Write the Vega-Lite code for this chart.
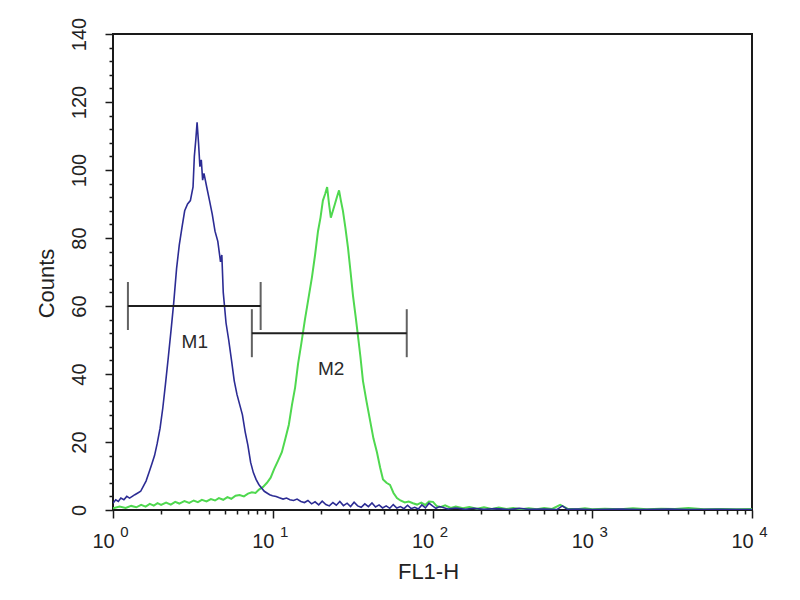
{
  "$schema": "https://vega.github.io/schema/vega-lite/v6.json",
  "autosize": "none",
  "padding": {"left": 113, "top": 34, "right": 48, "bottom": 90},
  "width": 639,
  "height": 476,
  "background": "white",
  "config": {
    "font": "Liberation Sans",
    "view": {"stroke": "#1a1a1a", "strokeWidth": 2},
    "axis": {"grid": false, "domain": false, "tickColor": "#1a1a1a", "tickWidth": 1.5, "labelColor": "#222", "titleColor": "#222", "labelFont": "Liberation Sans", "titleFont": "Liberation Sans", "titleFontWeight": "normal"}
  },
  "datasets": {
    "control": [
      {"fl1h": 1.00, "count": 2}, {"fl1h": 1.04, "count": 3}, {"fl1h": 1.08, "count": 2.5}, {"fl1h": 1.12, "count": 3.5},
      {"fl1h": 1.17, "count": 3}, {"fl1h": 1.22, "count": 4}, {"fl1h": 1.27, "count": 3.5}, {"fl1h": 1.32, "count": 4},
      {"fl1h": 1.37, "count": 4.5}, {"fl1h": 1.43, "count": 5}, {"fl1h": 1.49, "count": 5.5}, {"fl1h": 1.55, "count": 7},
      {"fl1h": 1.61, "count": 8.5}, {"fl1h": 1.68, "count": 11}, {"fl1h": 1.75, "count": 13.5}, {"fl1h": 1.82, "count": 16},
      {"fl1h": 1.89, "count": 19.5}, {"fl1h": 1.97, "count": 24}, {"fl1h": 2.05, "count": 30}, {"fl1h": 2.13, "count": 37},
      {"fl1h": 2.22, "count": 45}, {"fl1h": 2.31, "count": 53}, {"fl1h": 2.40, "count": 61}, {"fl1h": 2.50, "count": 71},
      {"fl1h": 2.60, "count": 78}, {"fl1h": 2.70, "count": 83}, {"fl1h": 2.81, "count": 88}, {"fl1h": 2.93, "count": 90},
      {"fl1h": 3.05, "count": 91}, {"fl1h": 3.17, "count": 95}, {"fl1h": 3.23, "count": 104}, {"fl1h": 3.30, "count": 109},
      {"fl1h": 3.36, "count": 114}, {"fl1h": 3.43, "count": 108}, {"fl1h": 3.50, "count": 101}, {"fl1h": 3.57, "count": 103},
      {"fl1h": 3.64, "count": 97}, {"fl1h": 3.71, "count": 99}, {"fl1h": 3.86, "count": 95}, {"fl1h": 4.02, "count": 91},
      {"fl1h": 4.18, "count": 87}, {"fl1h": 4.35, "count": 82}, {"fl1h": 4.53, "count": 79}, {"fl1h": 4.71, "count": 73},
      {"fl1h": 4.80, "count": 75}, {"fl1h": 4.90, "count": 64}, {"fl1h": 5.10, "count": 55}, {"fl1h": 5.30, "count": 50},
      {"fl1h": 5.52, "count": 44}, {"fl1h": 5.74, "count": 38}, {"fl1h": 5.97, "count": 34}, {"fl1h": 6.21, "count": 31},
      {"fl1h": 6.46, "count": 28}, {"fl1h": 6.72, "count": 23}, {"fl1h": 6.99, "count": 19}, {"fl1h": 7.27, "count": 14},
      {"fl1h": 7.56, "count": 11}, {"fl1h": 7.86, "count": 9}, {"fl1h": 8.18, "count": 7.5}, {"fl1h": 8.51, "count": 6.5},
      {"fl1h": 8.85, "count": 5.5}, {"fl1h": 9.20, "count": 5}, {"fl1h": 9.57, "count": 4.5}, {"fl1h": 9.96, "count": 4.2},
      {"fl1h": 10.5, "count": 4}, {"fl1h": 11.0, "count": 3.6}, {"fl1h": 11.6, "count": 3.2}, {"fl1h": 12.2, "count": 3.5},
      {"fl1h": 12.8, "count": 3}, {"fl1h": 13.5, "count": 2.8}, {"fl1h": 14.2, "count": 3.2}, {"fl1h": 15.0, "count": 2.5},
      {"fl1h": 15.8, "count": 2.2}, {"fl1h": 16.6, "count": 2.8}, {"fl1h": 17.5, "count": 1.8}, {"fl1h": 18.4, "count": 2.4},
      {"fl1h": 19.4, "count": 1.5}, {"fl1h": 20.4, "count": 2.6}, {"fl1h": 21.5, "count": 1.6}, {"fl1h": 22.6, "count": 1.2},
      {"fl1h": 23.8, "count": 2.2}, {"fl1h": 25.0, "count": 1.4}, {"fl1h": 26.3, "count": 2.5}, {"fl1h": 27.7, "count": 1.3},
      {"fl1h": 29.2, "count": 2}, {"fl1h": 30.7, "count": 1}, {"fl1h": 32.3, "count": 2.3}, {"fl1h": 34.0, "count": 1.2},
      {"fl1h": 35.8, "count": 0.8}, {"fl1h": 37.7, "count": 1.8}, {"fl1h": 39.7, "count": 1}, {"fl1h": 41.8, "count": 2.1},
      {"fl1h": 44.0, "count": 0.9}, {"fl1h": 46.3, "count": 1.5}, {"fl1h": 48.7, "count": 0.6}, {"fl1h": 51.3, "count": 1.2},
      {"fl1h": 54.0, "count": 0.5}, {"fl1h": 56.8, "count": 1.6}, {"fl1h": 59.8, "count": 0.6}, {"fl1h": 63.0, "count": 1},
      {"fl1h": 66.3, "count": 0.4}, {"fl1h": 69.8, "count": 1.4}, {"fl1h": 73.5, "count": 0.4}, {"fl1h": 77.4, "count": 0.8},
      {"fl1h": 81.5, "count": 0.3}, {"fl1h": 85.8, "count": 1.5}, {"fl1h": 90.3, "count": 0.6}, {"fl1h": 95.1, "count": 2},
      {"fl1h": 100, "count": 1.2}, {"fl1h": 105, "count": 0.5}, {"fl1h": 111, "count": 1}, {"fl1h": 125, "count": 0.3},
      {"fl1h": 140, "count": 0.6}, {"fl1h": 160, "count": 0.2}, {"fl1h": 180, "count": 0.5}, {"fl1h": 210, "count": 0.2},
      {"fl1h": 250, "count": 0.4}, {"fl1h": 300, "count": 0.1}, {"fl1h": 350, "count": 0.5}, {"fl1h": 400, "count": 0.2},
      {"fl1h": 500, "count": 0.3}, {"fl1h": 600, "count": 0.1}, {"fl1h": 650, "count": 1.2}, {"fl1h": 700, "count": 0.2},
      {"fl1h": 800, "count": 0.3}, {"fl1h": 1000, "count": 0.1}, {"fl1h": 1500, "count": 0.3}, {"fl1h": 2000, "count": 0.1},
      {"fl1h": 3000, "count": 0.3}, {"fl1h": 4000, "count": 0.1}, {"fl1h": 6000, "count": 0.2}, {"fl1h": 10000, "count": 0.1}
    ],
    "sample": [
      {"fl1h": 1.00, "count": 0.5}, {"fl1h": 1.1, "count": 1}, {"fl1h": 1.2, "count": 0.6}, {"fl1h": 1.3, "count": 1.2},
      {"fl1h": 1.4, "count": 0.8}, {"fl1h": 1.5, "count": 1.5}, {"fl1h": 1.6, "count": 1}, {"fl1h": 1.7, "count": 1.8},
      {"fl1h": 1.8, "count": 1.3}, {"fl1h": 1.9, "count": 2}, {"fl1h": 2.0, "count": 1.5}, {"fl1h": 2.15, "count": 2.2},
      {"fl1h": 2.3, "count": 1.6}, {"fl1h": 2.45, "count": 2.4}, {"fl1h": 2.6, "count": 1.9}, {"fl1h": 2.8, "count": 2.6},
      {"fl1h": 3.0, "count": 2.1}, {"fl1h": 3.2, "count": 2.8}, {"fl1h": 3.4, "count": 2.3}, {"fl1h": 3.6, "count": 3},
      {"fl1h": 3.85, "count": 2.5}, {"fl1h": 4.1, "count": 3.2}, {"fl1h": 4.35, "count": 2.8}, {"fl1h": 4.6, "count": 3.5},
      {"fl1h": 4.9, "count": 3}, {"fl1h": 5.2, "count": 3.8}, {"fl1h": 5.5, "count": 3.3}, {"fl1h": 5.85, "count": 4.2},
      {"fl1h": 6.2, "count": 4.4}, {"fl1h": 6.6, "count": 4}, {"fl1h": 7.0, "count": 4.8}, {"fl1h": 7.4, "count": 5.2},
      {"fl1h": 7.8, "count": 5}, {"fl1h": 8.2, "count": 6}, {"fl1h": 8.7, "count": 6.8}, {"fl1h": 9.2, "count": 8},
      {"fl1h": 9.7, "count": 9.5}, {"fl1h": 10.2, "count": 12}, {"fl1h": 10.8, "count": 14.5}, {"fl1h": 11.4, "count": 17},
      {"fl1h": 12.0, "count": 21}, {"fl1h": 12.6, "count": 25}, {"fl1h": 13.2, "count": 31}, {"fl1h": 13.8, "count": 36},
      {"fl1h": 14.4, "count": 43}, {"fl1h": 15.1, "count": 49}, {"fl1h": 15.9, "count": 56}, {"fl1h": 16.7, "count": 62},
      {"fl1h": 17.6, "count": 68.5}, {"fl1h": 18.4, "count": 75}, {"fl1h": 19.2, "count": 82}, {"fl1h": 19.9, "count": 86},
      {"fl1h": 20.6, "count": 91}, {"fl1h": 21.3, "count": 93}, {"fl1h": 21.9, "count": 95}, {"fl1h": 22.5, "count": 90},
      {"fl1h": 23.1, "count": 86}, {"fl1h": 23.8, "count": 88}, {"fl1h": 24.5, "count": 90}, {"fl1h": 25.2, "count": 92},
      {"fl1h": 26.0, "count": 94}, {"fl1h": 26.7, "count": 91}, {"fl1h": 27.5, "count": 88}, {"fl1h": 28.5, "count": 83},
      {"fl1h": 29.6, "count": 77}, {"fl1h": 30.7, "count": 70}, {"fl1h": 31.8, "count": 63}, {"fl1h": 33.0, "count": 57},
      {"fl1h": 34.2, "count": 51}, {"fl1h": 35.4, "count": 45}, {"fl1h": 36.7, "count": 38}, {"fl1h": 38.6, "count": 32},
      {"fl1h": 40.6, "count": 26.5}, {"fl1h": 42.7, "count": 21}, {"fl1h": 44.9, "count": 17}, {"fl1h": 47.0, "count": 12.5},
      {"fl1h": 49.0, "count": 9}, {"fl1h": 51.5, "count": 8}, {"fl1h": 54.2, "count": 7.4}, {"fl1h": 57.0, "count": 5},
      {"fl1h": 59.9, "count": 3.5}, {"fl1h": 63.0, "count": 2.8}, {"fl1h": 67.0, "count": 2.2}, {"fl1h": 71.0, "count": 2.5},
      {"fl1h": 75.5, "count": 2}, {"fl1h": 80.0, "count": 1.6}, {"fl1h": 85.0, "count": 2.2}, {"fl1h": 90.0, "count": 1.5},
      {"fl1h": 95.0, "count": 2.5}, {"fl1h": 100.7, "count": 2.4}, {"fl1h": 106, "count": 1.2}, {"fl1h": 112, "count": 0.8},
      {"fl1h": 120, "count": 1.4}, {"fl1h": 130, "count": 0.6}, {"fl1h": 140, "count": 1}, {"fl1h": 155, "count": 0.5},
      {"fl1h": 170, "count": 0.9}, {"fl1h": 190, "count": 0.4}, {"fl1h": 210, "count": 0.8}, {"fl1h": 235, "count": 0.3},
      {"fl1h": 260, "count": 0.7}, {"fl1h": 290, "count": 0.3}, {"fl1h": 320, "count": 0.6}, {"fl1h": 360, "count": 0.2},
      {"fl1h": 400, "count": 0.5}, {"fl1h": 450, "count": 0.2}, {"fl1h": 500, "count": 0.6}, {"fl1h": 560, "count": 0.3},
      {"fl1h": 630, "count": 1.5}, {"fl1h": 700, "count": 0.4}, {"fl1h": 800, "count": 0.2}, {"fl1h": 900, "count": 0.5},
      {"fl1h": 1000, "count": 0.2}, {"fl1h": 1200, "count": 0.4}, {"fl1h": 1500, "count": 0.2}, {"fl1h": 1800, "count": 0.5},
      {"fl1h": 2200, "count": 0.2}, {"fl1h": 2700, "count": 0.4}, {"fl1h": 3300, "count": 0.3}, {"fl1h": 4000, "count": 0.6},
      {"fl1h": 5000, "count": 0.2}, {"fl1h": 6500, "count": 0.3}, {"fl1h": 8000, "count": 0.2}, {"fl1h": 10000, "count": 0.3}
    ],
    "gates": [
      {"gate": "M1", "lo": 1.24, "hi": 8.4, "count": 60, "mid": 3.25},
      {"gate": "M2", "lo": 7.4, "hi": 69, "count": 52, "mid": 23.2}
    ]
  },
  "resolve": {"axis": {"x": "independent", "y": "independent"}},
  "layer": [
    {
      "data": {"name": "sample"},
      "mark": {"type": "line", "color": "#4fd84f", "strokeWidth": 2, "clip": true},
      "encoding": {
        "x": {"field": "fl1h", "type": "quantitative",
              "scale": {"type": "log", "domain": [1, 10000], "nice": false},
              "axis": {"orient": "bottom", "values": [1, 10, 100, 1000, 10000], "tickSize": 8,
                       "labelExpr": "'10'", "labelFontSize": 20, "labelOffset": -10, "labelPadding": 13,
                       "labelFlush": false, "labelBaseline": "top", "labelAlign": "center",
                       "title": "FL1-H", "titleFontSize": 22, "titleX": 315, "titleY": 51,
                       "titleBaseline": "top", "titleAlign": "center", "titleAngle": 0}},
        "y": {"field": "count", "type": "quantitative",
              "scale": {"domain": [0, 140], "nice": false},
              "axis": {"orient": "left", "values": [0, 20, 40, 60, 80, 100, 120, 140], "tickSize": 8,
                       "labelAngle": 270, "labelAlign": "center", "labelBaseline": "bottom", "labelPadding": 16,
                       "labelFontSize": 20,
                       "title": "Counts", "titleFontSize": 22, "titleAngle": 270, "titleX": -55, "titleY": 249,
                       "titleBaseline": "bottom", "titleAlign": "center"}}
      }
    },
    {
      "data": {"name": "control"},
      "mark": {"type": "line", "color": "#2c2c94", "strokeWidth": 1.6, "clip": true},
      "encoding": {
        "x": {"field": "fl1h", "type": "quantitative",
              "axis": {"orient": "bottom", "values": [2, 3, 4, 5, 6, 7, 8, 9, 20, 30, 40, 50, 60, 70, 80, 90, 200, 300, 400, 500, 600, 700, 800, 900, 2000, 3000, 4000, 5000, 6000, 7000, 8000, 9000],
                       "tickSize": 4, "labels": false, "title": null}},
        "y": {"field": "count", "type": "quantitative",
              "axis": {"orient": "left", "values": [4, 8, 12, 16, 24, 28, 32, 36, 44, 48, 52, 56, 64, 68, 72, 76, 84, 88, 92, 96, 104, 108, 112, 116, 124, 128, 132, 136],
                       "tickSize": 4, "labels": false, "title": null}}
      }
    },
    {
      "data": {"name": "gates"},
      "mark": {"type": "rule", "color": "#1f1f1f", "strokeWidth": 2},
      "encoding": {
        "x": {"field": "lo", "type": "quantitative",
              "axis": {"orient": "bottom", "values": [1, 10, 100, 1000, 10000], "ticks": false, "tickSize": 0,
                       "labelExpr": "'' + round(log(datum.value) / LN10)", "labelFontSize": 15,
                       "labelOffset": 11, "labelPadding": 14, "labelFlush": false,
                       "labelBaseline": "top", "labelAlign": "center", "title": null}},
        "x2": {"field": "hi"},
        "y": {"field": "count", "type": "quantitative", "axis": null}
      }
    },
    {
      "data": {"name": "gates"},
      "mark": {"type": "tick", "orient": "vertical", "color": "#1f1f1f", "thickness": 2, "size": 48},
      "encoding": {
        "x": {"field": "lo", "type": "quantitative", "axis": null},
        "y": {"field": "count", "type": "quantitative", "axis": null}
      }
    },
    {
      "data": {"name": "gates"},
      "mark": {"type": "tick", "orient": "vertical", "color": "#1f1f1f", "thickness": 2, "size": 48},
      "encoding": {
        "x": {"field": "hi", "type": "quantitative", "axis": null},
        "y": {"field": "count", "type": "quantitative", "axis": null}
      }
    },
    {
      "data": {"name": "gates"},
      "mark": {"type": "text", "color": "#2a2a2a", "fontSize": 19, "dy": 36, "baseline": "middle", "align": "center"},
      "encoding": {
        "x": {"field": "mid", "type": "quantitative", "axis": null},
        "y": {"field": "count", "type": "quantitative", "axis": null},
        "text": {"field": "gate"}
      }
    }
  ]
}
